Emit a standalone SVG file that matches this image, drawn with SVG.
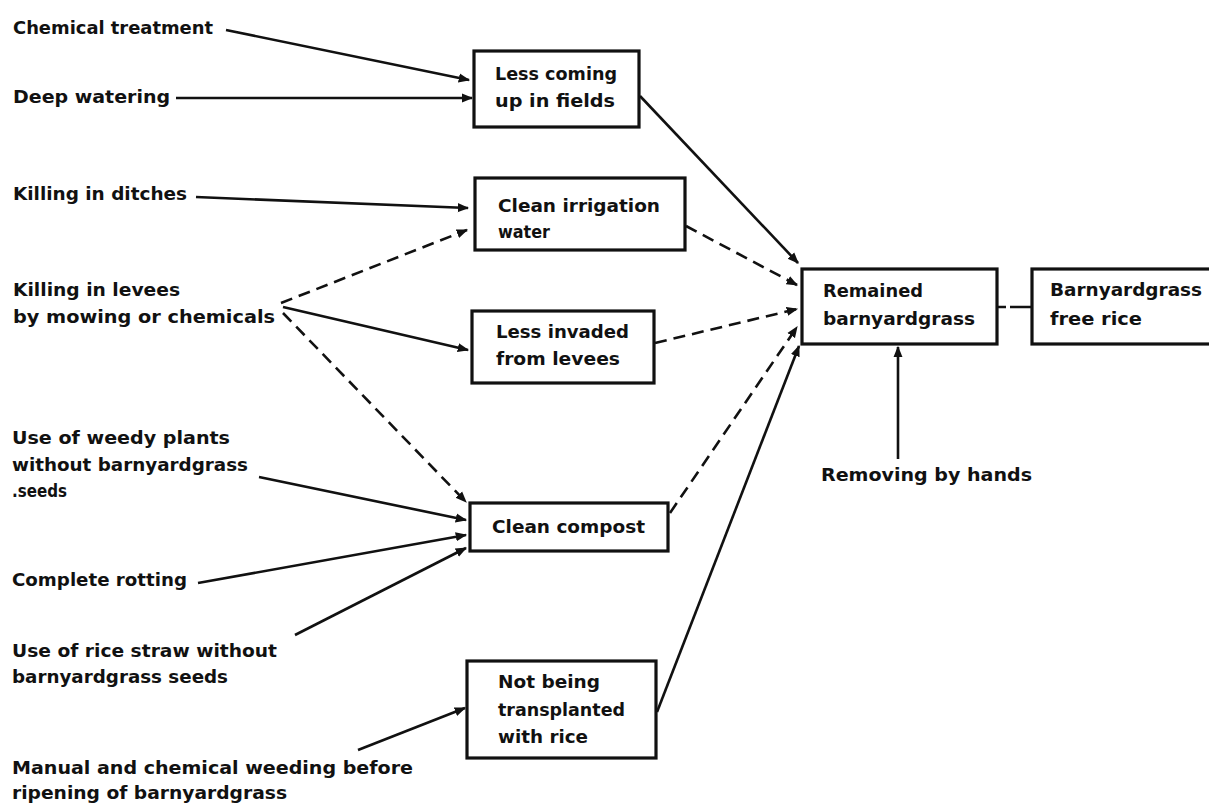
<svg xmlns="http://www.w3.org/2000/svg" width="1209" height="804" viewBox="0 0 1209 804">
<style>
text{font-family:"DejaVu Sans","Liberation Sans",sans-serif;font-size:18px;fill:#111;font-weight:bold}
rect{fill:none;stroke:#111;stroke-width:3.2}
.c{fill:none;stroke:#111;stroke-width:2.6}
.d{stroke-dasharray:12 7}
</style>
<defs>
<marker id="ah" viewBox="0 0 10 10" refX="9" refY="5" markerWidth="4.4" markerHeight="4.4" orient="auto" markerUnits="strokeWidth">
<path d="M0,1 L10,5 L0,9 z" fill="#111"/>
</marker>
</defs>
<rect x="0" y="0" width="1209" height="804" style="fill:#fff;stroke:none"/>
<g id="connectors">
<path class="c" d="M226,30 L469,80" marker-end="url(#ah)"/>
<path class="c" d="M176,98 L472,98" marker-end="url(#ah)"/>
<path class="c" d="M196,197 L468,208" marker-end="url(#ah)"/>
<path class="c d" d="M281,303 L467,230" marker-end="url(#ah)"/>
<path class="c" d="M283,307 L468,350" marker-end="url(#ah)"/>
<path class="c d" d="M283,313 L466,502" marker-end="url(#ah)"/>
<path class="c" d="M259,477 L466,520" marker-end="url(#ah)"/>
<path class="c" d="M198,583 L466,535" marker-end="url(#ah)"/>
<path class="c" d="M295,635 L466,548" marker-end="url(#ah)"/>
<path class="c" d="M358,750 L465,708" marker-end="url(#ah)"/>
<path class="c" d="M640,96 L798,263" marker-end="url(#ah)"/>
<path class="c d" d="M686,226 L797,285" marker-end="url(#ah)"/>
<path class="c d" d="M655,343 L797,309" marker-end="url(#ah)"/>
<path class="c d" d="M670,513 L797,327" marker-end="url(#ah)"/>
<path class="c" d="M657,712 L799,346" marker-end="url(#ah)"/>
<path class="c" d="M898,459 L898,347" marker-end="url(#ah)"/>
<path class="c" d="M998,307 L1006,307 M1010,307 L1031,307"/>
</g>
<g id="src-labels">
<text x="13" y="34" textLength="200" lengthAdjust="spacingAndGlyphs">Chemical treatment</text>
<text x="13" y="103" textLength="157" lengthAdjust="spacingAndGlyphs">Deep watering</text>
<text x="13" y="200" textLength="174" lengthAdjust="spacingAndGlyphs">Killing in ditches</text>
<text x="13" y="296" textLength="167" lengthAdjust="spacingAndGlyphs">Killing in levees</text>
<text x="13" y="323" textLength="262" lengthAdjust="spacingAndGlyphs">by mowing or chemicals</text>
<text x="12" y="444" textLength="218" lengthAdjust="spacingAndGlyphs">Use of weedy plants</text>
<text x="12" y="471" textLength="236" lengthAdjust="spacingAndGlyphs">without barnyardgrass</text>
<text x="12" y="497" textLength="55" lengthAdjust="spacingAndGlyphs">.seeds</text>
<text x="12" y="586" textLength="175" lengthAdjust="spacingAndGlyphs">Complete rotting</text>
<text x="12" y="657" textLength="265" lengthAdjust="spacingAndGlyphs">Use of rice straw without</text>
<text x="12" y="683" textLength="216" lengthAdjust="spacingAndGlyphs">barnyardgrass seeds</text>
<text x="12" y="774" textLength="401" lengthAdjust="spacingAndGlyphs">Manual and chemical weeding before</text>
<text x="12" y="799" textLength="275" lengthAdjust="spacingAndGlyphs">ripening of barnyardgrass</text>
<text x="821" y="481" textLength="211" lengthAdjust="spacingAndGlyphs">Removing by hands</text>
</g>
<g id="n1"><rect x="474" y="51" width="165" height="76"/><text x="495" y="80" textLength="122" lengthAdjust="spacingAndGlyphs">Less coming</text><text x="495" y="107" textLength="120" lengthAdjust="spacingAndGlyphs">up in fields</text></g>
<g id="n2"><rect x="475" y="178" width="210" height="72"/><text x="498" y="212" textLength="162" lengthAdjust="spacingAndGlyphs">Clean irrigation</text><text x="498" y="238" textLength="52" lengthAdjust="spacingAndGlyphs">water</text></g>
<g id="n3"><rect x="472" y="311" width="182" height="72"/><text x="496" y="338" textLength="133" lengthAdjust="spacingAndGlyphs">Less invaded</text><text x="496" y="365" textLength="124" lengthAdjust="spacingAndGlyphs">from levees</text></g>
<g id="n4"><rect x="470" y="503" width="198" height="48"/><text x="492" y="533" textLength="153" lengthAdjust="spacingAndGlyphs">Clean compost</text></g>
<g id="n5"><rect x="467" y="661" width="189" height="97"/><text x="498" y="688" textLength="102" lengthAdjust="spacingAndGlyphs">Not being</text><text x="498" y="716" textLength="127" lengthAdjust="spacingAndGlyphs">transplanted</text><text x="498" y="743" textLength="90" lengthAdjust="spacingAndGlyphs">with rice</text></g>
<g id="n6"><rect x="802" y="269" width="195" height="75"/><text x="823" y="297" textLength="100" lengthAdjust="spacingAndGlyphs">Remained</text><text x="823" y="325" textLength="152" lengthAdjust="spacingAndGlyphs">barnyardgrass</text></g>
<g id="n7"><rect x="1032" y="269" width="185" height="75"/><text x="1050" y="296" textLength="152" lengthAdjust="spacingAndGlyphs">Barnyardgrass</text><text x="1050" y="325" textLength="92" lengthAdjust="spacingAndGlyphs">free rice</text></g>
</svg>
